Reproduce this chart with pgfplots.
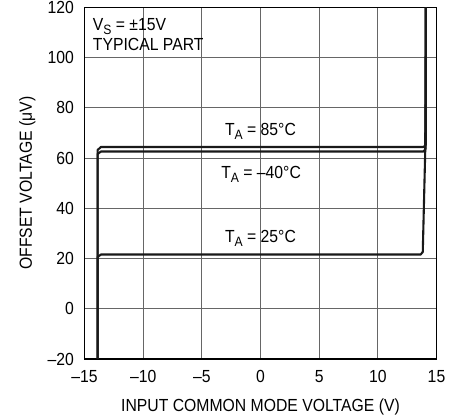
\documentclass[border=0pt]{standalone}
\usepackage{fontspec}
\setmainfont{Liberation Sans}[FakeStretch=0.9]
\usepackage{pgfplots}
\pgfplotsset{compat=1.18}
\newcommand{\lfont}{\fontsize{17.5}{20}\selectfont}
\newcommand{\sfont}{\fontsize{13.5}{14}\selectfont}
\begin{document}
\begin{tikzpicture}
\begin{axis}[
  name=ax,
  scale only axis,
  width=352pt, height=351.7pt,
  xmin=-15, xmax=15, ymin=-20, ymax=120,
  xtick={-15,-10,...,15},
  ytick={-20,0,...,120},
  xticklabels={–15,–10,–5,0,5,10,15},
  yticklabels={–20,0,20,40,60,80,100,120},
  major tick length=0pt,
  grid=major,
  grid style={black!60, line width=0.7pt},
  axis line style={black, line width=1.1pt},
  tick label style={font=\lfont},
  xticklabel style={inner ysep=0pt, yshift=-11pt},
  yticklabel style={inner xsep=0pt, xshift=-10.5pt},
  xlabel={INPUT COMMON MODE VOLTAGE (V)},
  ylabel={OFFSET VOLTAGE (μV)},
  label style={font=\lfont},
  xlabel style={at={([yshift=-52pt]rel axis cs:0.5,0)}, anchor=base},
  ylabel style={at={([xshift=-52.5pt]rel axis cs:0,0.5)}, anchor=base},
]
% T_A = 85C
\addplot[black!90, no marks, line width=2.1pt, line join=round] coordinates {(-13.88,-20) (-13.88,63.2) (-13.6,64.4) (13.9,64.4) (14.1,65.4) (14.1,120)};
% T_A = -40C
\addplot[black!90, no marks, line width=2.1pt, line join=round] coordinates {(-13.88,-20) (-13.88,61.6) (-13.6,62.6) (13.9,62.6) (14.06,63.6) (14.08,120)};
% T_A = 25C
\addplot[black!90, no marks, line width=2.1pt, line join=round] coordinates {(-13.88,-20) (-13.88,20.6) (-13.6,21.6) (13.65,21.6) (13.83,22.6) (14.04,63) (14.08,120)};
\node[anchor=north west, align=left, font=\lfont, inner sep=0pt] at (rel axis cs:0.0233,0.9687)
  {V\raisebox{-0.45ex}{\sfont S} = ±15V\\TYPICAL PART};
\node[anchor=base, font=\lfont, inner sep=0pt] at (axis cs:0.0,69.1)
  {T\raisebox{-0.45ex}{\sfont A} = 85°C};
\node[anchor=north, font=\lfont, inner sep=0pt] at (axis cs:0.05,56.9)
  {T\raisebox{-0.45ex}{\sfont A} = –40°C};
\node[anchor=base, font=\lfont, inner sep=0pt] at (axis cs:0.0,26.5)
  {T\raisebox{-0.45ex}{\sfont A} = 25°C};
\end{axis}
\pgfresetboundingbox
\path (ax.south west) +(-84.5pt,-60pt);
\path (ax.north east) +(22.5pt,7.3pt);
\end{tikzpicture}
\end{document}
